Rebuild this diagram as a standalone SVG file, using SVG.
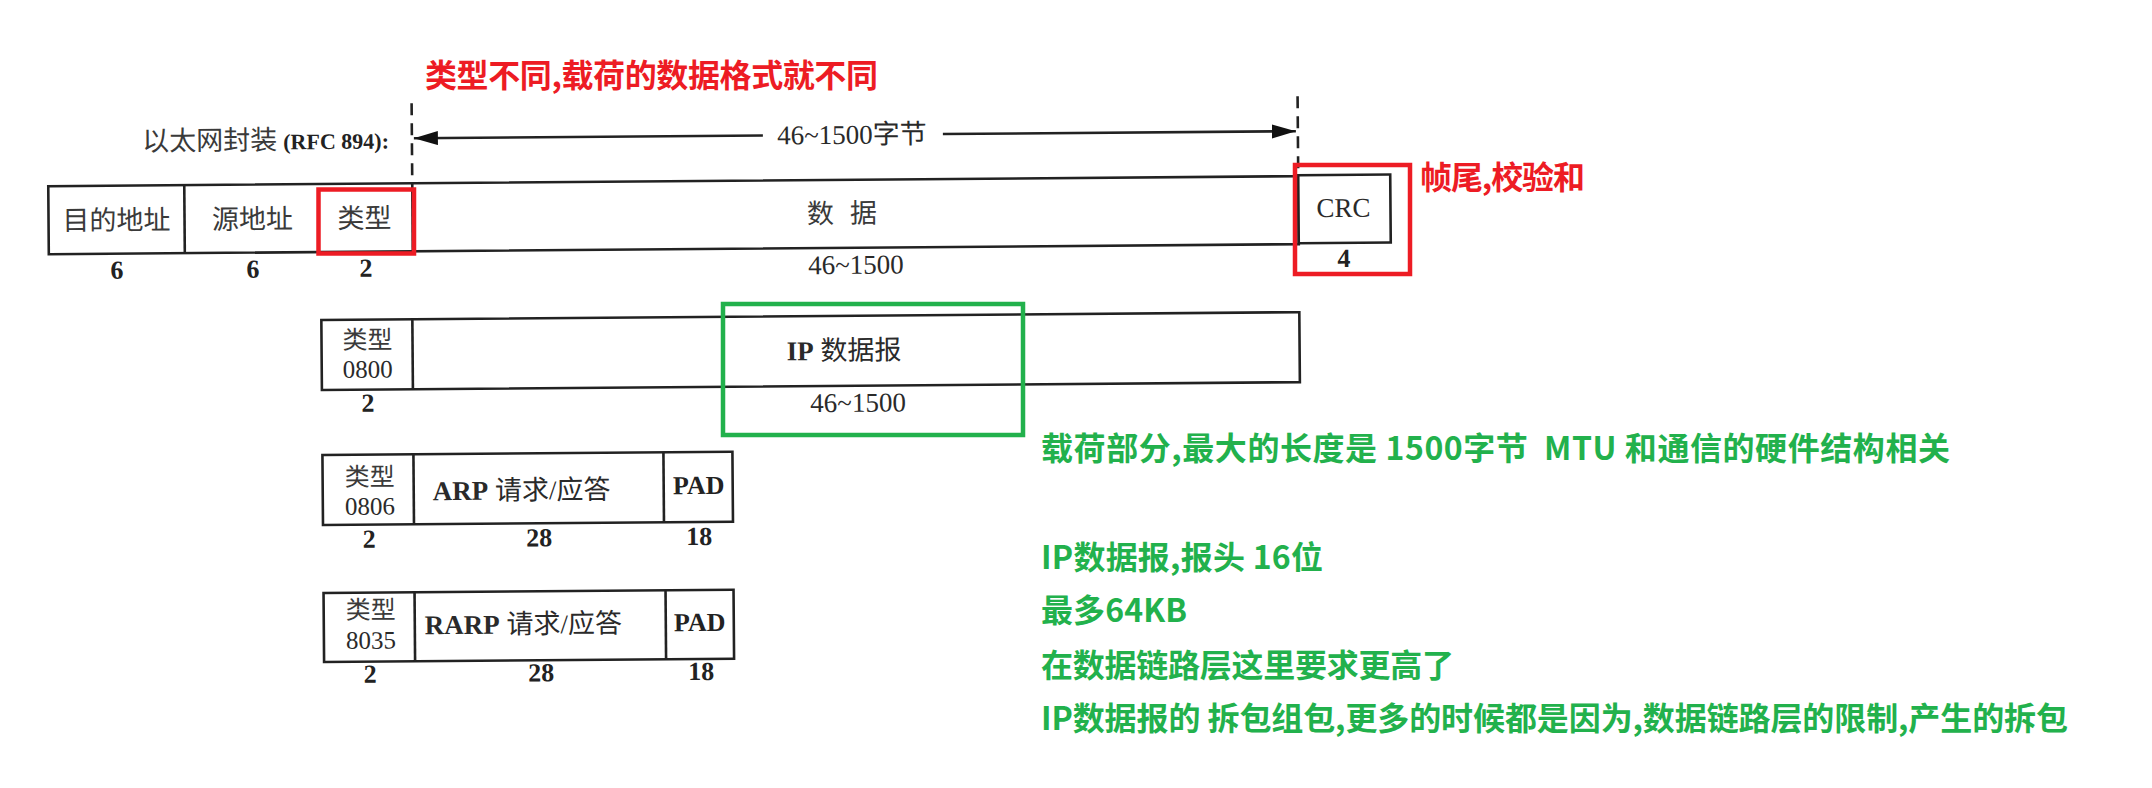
<svg xmlns="http://www.w3.org/2000/svg" width="2152" height="788" viewBox="0 0 2152 788">
<style>
.bx{fill:#fff;stroke:#222;stroke-width:2.6}
.ln{stroke:#222;stroke-width:2.6;fill:none}
.dash{stroke:#222;stroke-width:2.6;stroke-dasharray:12 8;fill:none}
.cj{font-family:"Noto Sans CJK SC",sans-serif;font-size:27px;fill:#3a3a3a}
.sf{font-family:"Liberation Serif","Noto Sans CJK SC",serif;font-size:27px;fill:#2a2a2a}
.num{font-family:"Liberation Serif",serif;font-weight:bold;font-size:26px;fill:#222;text-anchor:middle}
.mid{text-anchor:middle}
.st{font-size:25px}
.red{font-family:"Noto Sans CJK SC",sans-serif;font-weight:bold;font-size:32px;fill:#ED1C24}
.grn{font-family:"Noto Sans CJK SC",sans-serif;font-weight:bold;font-size:32px;fill:#22B14C}
.rbox{fill:none;stroke:#ED1C24;stroke-width:4.5}
.gbox{fill:none;stroke:#22B14C;stroke-width:4.5}
</style>
<defs>
<marker id="ah" markerUnits="userSpaceOnUse" markerWidth="26" markerHeight="16" refX="24" refY="7" orient="auto">
<path d="M0,0 L24,7 L0,14 z" fill="#111"/>
</marker>
</defs>
<rect width="2152" height="788" fill="#fff"/>
<g transform="rotate(-0.46 700 400)">
<g id="connectors">
<line class="dash" x1="414" y1="101" x2="414" y2="181"/>
<line class="dash" x1="1300" y1="101" x2="1300" y2="181"/>
<line class="ln" x1="765" y1="136" x2="416" y2="136" marker-end="url(#ah)"/>
<line class="ln" x1="945" y1="136" x2="1298" y2="136" marker-end="url(#ah)"/>
<text class="sf mid" x="854" y="145">46~1500字节</text>
<text class="cj" x="391" y="146" text-anchor="end">以太网封装 <tspan font-family="Liberation Serif" font-weight="bold" font-size="22" fill="#222">(RFC 894):</tspan></text>
</g>
<g id="ethernet-frame">
<rect class="bx" x="50" y="181" width="1250" height="68"/>
<line class="ln" x1="186" y1="181" x2="186" y2="249"/>
<line class="ln" x1="414" y1="181" x2="414" y2="249"/>
<rect class="bx" x="1300" y="180" width="92" height="68"/>
<text class="cj mid" x="118" y="225">目的地址</text>
<text class="cj mid" x="254" y="225">源地址</text>
<text class="cj mid" x="366" y="225">类型</text>
<text class="cj mid" x="822 865" y="224">数据</text>
<text class="sf mid" x="1345" y="222" font-size="28">CRC</text>
<text class="num" x="118" y="274">6</text>
<text class="num" x="254" y="274">6</text>
<text class="num" x="367" y="274">2</text>
<text class="sf mid" x="857" y="275">46~1500</text>
<text class="num" x="1345" y="272">4</text>
</g>
<g id="ip-row">
<rect class="bx" x="322" y="317" width="978" height="70"/>
<line class="ln" x1="413" y1="317" x2="413" y2="387"/>
<text class="cj mid st" x="368" y="346">类型</text>
<text class="sf mid st" x="368" y="375">0800</text>
<text class="sf" x="787" y="361"><tspan font-weight="bold">IP</tspan> 数据报</text>
<text class="num" x="368" y="409">2</text>
<text class="sf mid" x="858" y="413">46~1500</text>
</g>
<g id="arp-row">
<rect class="bx" x="322" y="452" width="410" height="70"/>
<line class="ln" x1="413" y1="452" x2="413" y2="522"/>
<line class="ln" x1="663" y1="452" x2="663" y2="522"/>
<text class="cj mid st" x="369" y="483">类型</text>
<text class="sf mid st" x="369" y="512">0806</text>
<text class="sf" x="432" y="498"><tspan font-weight="bold">ARP</tspan> 请求/应答</text>
<text class="num" x="698" y="494">PAD</text>
<text class="num" x="368" y="545">2</text>
<text class="num" x="538" y="545">28</text>
<text class="num" x="698" y="545">18</text>
</g>
<g id="rarp-row">
<rect class="bx" x="322" y="590" width="410" height="69"/>
<line class="ln" x1="413" y1="590" x2="413" y2="659"/>
<line class="ln" x1="664" y1="590" x2="664" y2="659"/>
<text class="cj mid st" x="369" y="616">类型</text>
<text class="sf mid st" x="369" y="646">8035</text>
<text class="sf" x="423" y="632"><tspan font-weight="bold">RARP</tspan> 请求/应答</text>
<text class="num" x="698" y="631">PAD</text>
<text class="num" x="368" y="680">2</text>
<text class="num" x="539" y="680">28</text>
<text class="num" x="699" y="680">18</text>
</g>
</g>
<g id="type-highlight">
<rect class="rbox" x="318.5" y="189.5" width="95.5" height="64"/>
<text class="red" x="425" y="87" textLength="453" lengthAdjust="spacing">类型不同,载荷的数据格式就不同</text>
</g>
<g id="crc-highlight">
<rect class="rbox" x="1295" y="165" width="115" height="109"/>
<text class="red" x="1420" y="189" textLength="165" lengthAdjust="spacing">帧尾,校验和</text>
</g>
<g id="payload-highlight">
<rect class="gbox" x="723" y="304" width="300" height="131"/>
</g>
<g id="notes">
<text class="grn" x="1041" y="460" textLength="909" lengthAdjust="spacing">载荷部分,最大的长度是 1500字节&#160; MTU 和通信的硬件结构相关</text>
<text class="grn" x="1041" y="569" textLength="282" lengthAdjust="spacing">IP数据报,报头 16位</text>
<text class="grn" x="1041" y="622" textLength="146" lengthAdjust="spacing">最多64KB</text>
<text class="grn" x="1041" y="677" textLength="413" lengthAdjust="spacing">在数据链路层这里要求更高了</text>
<text class="grn" x="1041" y="730" textLength="1027" lengthAdjust="spacing">IP数据报的 拆包组包,更多的时候都是因为,数据链路层的限制,产生的拆包</text>
</g>
</svg>
